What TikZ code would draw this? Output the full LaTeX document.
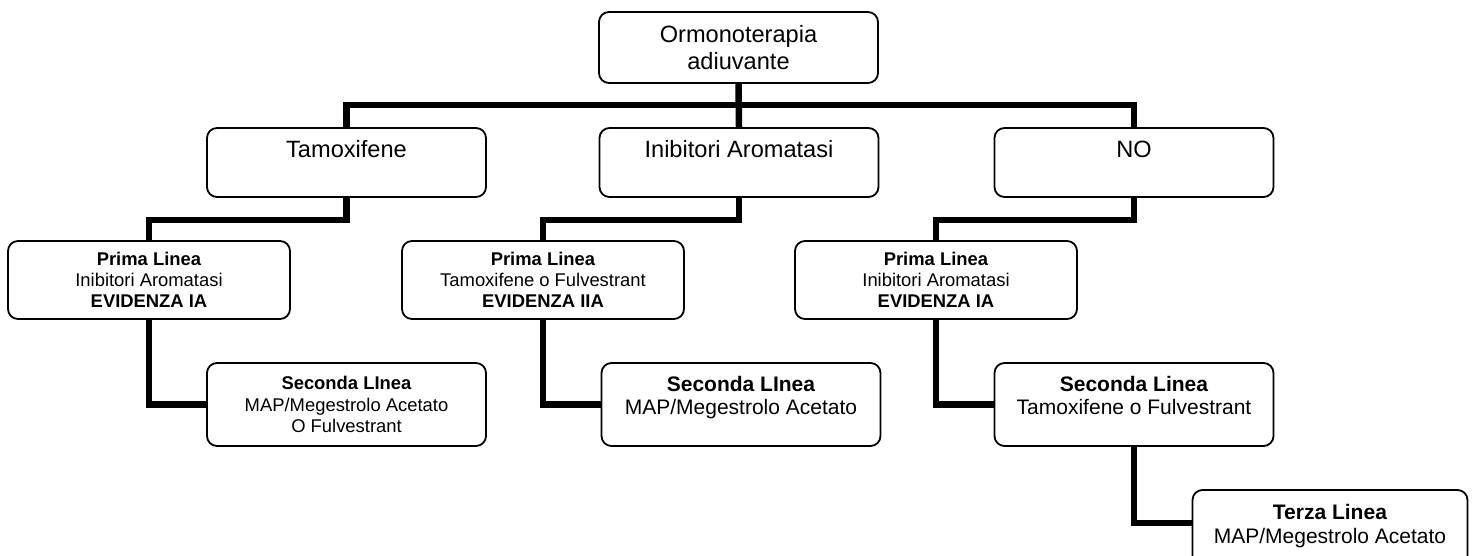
\documentclass[tikz,border=0pt]{standalone}
\usepackage{fontspec}
\setmainfont{Liberation Sans}
\begin{document}
\begin{tikzpicture}[x=1pt,y=-1pt,
  box/.style={draw, line width=1.8pt, rounded corners=10pt, inner sep=0pt, align=center, fill=white},
  conn/.style={line width=6.5pt},
  fbig/.style={font=\fontsize{23.6}{27.2}\selectfont},
  fmed/.style={font=\fontsize{21}{23.3}\selectfont},
  fsml/.style={font=\fontsize{18.4}{21.2}\selectfont},
  lvA/.style={box, fbig, minimum width=279pt, minimum height=69pt},
  lvP/.style={box, fsml, minimum width=282pt, minimum height=78pt},
  lvS/.style={minimum width=279pt, minimum height=83pt}]
\useasboundingbox (0,0) rectangle (1477,555);
\clip (0,0) rectangle (1477,555);

% top
\node[box, fbig, minimum width=279pt, minimum height=71pt] (top) at (738.5,47.5) {Ormonoterapia\\adiuvante};
% level 1
\node[lvA] (tam)  at (346.5,162.5) {Tamoxifene\\\mbox{}};
\node[lvA] (inib) at (739,162.5) {Inibitori Aromatasi\\\mbox{}};
\node[lvA] (no)   at (1134,162.5) {NO\\\mbox{}};
% prima linea
\node[lvP] (p1) at (149,280) {\textbf{Prima Linea}\\Inibitori Aromatasi\\\textbf{EVIDENZA IA}};
\node[lvP] (p2) at (543,280) {\textbf{Prima Linea}\\Tamoxifene o Fulvestrant\\\textbf{EVIDENZA IIA}};
\node[lvP] (p3) at (936,280) {\textbf{Prima Linea}\\Inibitori Aromatasi\\\textbf{EVIDENZA IA}};
% seconda linea
\node[box, fsml, lvS] (s1) at (346.5,404.5) {\textbf{Seconda LInea}\\MAP/Megestrolo Acetato\\O Fulvestrant};
\node[box, fmed, lvS] (s2) at (741,404.5) {\textbf{Seconda LInea}\\MAP/Megestrolo Acetato\\[-5.7pt]\mbox{}};
\node[box, fmed, lvS] (s3) at (1134,404.5) {\textbf{Seconda Linea}\\Tamoxifene o Fulvestrant\\[-5.7pt]\mbox{}};
% terza linea
\node[box, fmed, minimum width=275pt, minimum height=80pt] (t) at (1330,530) {\textbf{Terza Linea}\\MAP/Megestrolo Acetato\\[-11.3pt]\mbox{}};

% connectors
\draw[conn] (top.south) -- (inib.north);
\draw[conn] (tam.north) -- ++(0,-22) -| (no.north);
\draw[conn] (tam.south) -- ++(0,22) -| (p1.north);
\draw[conn] (inib.south) -- ++(0,22) -| (p2.north);
\draw[conn] (no.south) -- ++(0,22) -| (p3.north);
\draw[conn] (p1.south) |- (s1.west);
\draw[conn] (p2.south) |- (s2.west);
\draw[conn] (p3.south) |- (s3.west);
\draw[conn] (s3.south) |- ([yshift=7pt]t.west);
\end{tikzpicture}
\end{document}
